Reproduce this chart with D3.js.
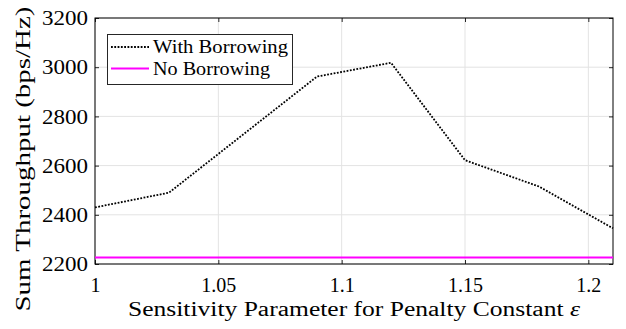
<!DOCTYPE html>
<html>
<head>
<meta charset="utf-8">
<script src="https://cdn.jsdelivr.net/npm/d3@7"></script>
</head>
<body style="margin:0;background:#fff">
<svg id="chart"></svg>
<script>
	// data
	var epsValues = [1, 1.03, 1.09, 1.12, 1.15, 1.18, 1.21];
	var withBorrowing = [2430, 2490, 2962, 3018, 2622, 2515, 2345];
	var noBorrowing = [2226, 2226, 2226, 2226, 2226, 2226, 2226];
	var xTicks = [1, 1.05, 1.1, 1.15, 1.2];
	var yTicks = [2200, 2400, 2600, 2800, 3000, 3200];
	var seriesNames = ["With Borrowing", "No Borrowing"];

	// font-family is left unset on purpose: the page default is the serif face
	var width = 626, height = 329;
	var margin = {left: 95, top: 18, right: 13, bottom: 65};
	var svg = d3.select("#chart").attr("width", width).attr("height", height);

	var x = d3.scaleLinear().domain([1, 1.21]).range([margin.left, width - margin.right]);
	var y = d3.scaleLinear().domain([2200, 3200]).range([height - margin.bottom, margin.top]);

	// grid
	var grid = svg.append("g").attr("class", "grid");
	grid.selectAll("line.gx").data(xTicks).enter().append("line")
		.attr("x1", function(d) { return x(d); }).attr("x2", function(d) { return x(d); })
		.attr("y1", y(2200)).attr("y2", y(3200))
		.style("stroke", "#e3e3e3").style("stroke-width", 1);
	grid.selectAll("line.gy").data(yTicks).enter().append("line")
		.attr("y1", function(d) { return y(d); }).attr("y2", function(d) { return y(d); })
		.attr("x1", x(1)).attr("x2", x(1.21))
		.style("stroke", "#e3e3e3").style("stroke-width", 1);

	// axes with inward ticks
	var xAxis = d3.axisBottom(x).tickValues(xTicks).tickSizeInner(-4).tickSizeOuter(0)
		.tickFormat(function(d) { return String(+d.toFixed(2)); });
	var yAxis = d3.axisLeft(y).tickValues(yTicks).tickSizeInner(-4).tickSizeOuter(0)
		.tickFormat(d3.format("d"));

	var gx = svg.append("g").attr("transform", "translate(0," + y(2200) + ")").call(xAxis);
	var gy = svg.append("g").attr("transform", "translate(" + x(1) + ",0)").call(yAxis);
	var gxTop = svg.append("g").attr("transform", "translate(0," + y(3200) + ")")
		.call(d3.axisTop(x).tickValues(xTicks).tickSizeInner(-4).tickSizeOuter(0).tickFormat(""));
	var gyRight = svg.append("g").attr("transform", "translate(" + x(1.21) + ",0)")
		.call(d3.axisRight(y).tickValues(yTicks).tickSizeInner(-4).tickSizeOuter(0).tickFormat(""));

	[gx, gy, gxTop, gyRight].forEach(function(g) {
		g.attr("font-family", null).attr("font-size", null);
		g.select(".domain").remove();
		g.selectAll(".tick line").style("stroke", "#262626");
	});
	gx.selectAll("text").style("font-size", "20px")
		.style("fill", "#000").attr("dy", "0").attr("y", 28);
	gy.selectAll("text").style("font-size", "20px")
		.style("fill", "#000").attr("x", -7).attr("dy", "0.33em")
		.attr("textLength", 46).attr("lengthAdjust", "spacingAndGlyphs");

	// frame
	svg.append("rect")
		.attr("x", x(1)).attr("y", y(3200))
		.attr("width", x(1.21) - x(1)).attr("height", y(2200) - y(3200))
		.style("fill", "none").style("stroke", "#000").style("stroke-width", 1);

	var line = d3.line()
		.x(function(d, i) { return x(epsValues[i]); })
		.y(function(d) { return y(d); });

	svg.append("path").datum(noBorrowing).attr("d", line)
		.style("fill", "none").style("stroke", "#ff00ff").style("stroke-width", 2);
	svg.append("path").datum(withBorrowing).attr("d", line)
		.style("fill", "none").style("stroke", "#000").style("stroke-width", 1.8)
		.style("stroke-dasharray", "1.8,1.5");

	// labels
	svg.append("text").attr("x", (x(1) + x(1.21)) / 2).attr("y", 316)
		.attr("text-anchor", "middle").style("font-size", "20px")
		.attr("textLength", 452).attr("lengthAdjust", "spacingAndGlyphs")
		.text("Sensitivity Parameter for Penalty Constant ")
		.append("tspan").style("font-style", "italic").text("ε");
	svg.append("text").attr("transform", "translate(30,159) rotate(-90)")
		.attr("text-anchor", "middle").style("font-size", "20px")
		.attr("textLength", 305).attr("lengthAdjust", "spacingAndGlyphs")
		.text("Sum Throughput (bps/Hz)");

	// legend
	var legend = svg.append("g");
	legend.append("rect").attr("x", 107.5).attr("y", 34.5).attr("width", 185).attr("height", 50)
		.style("fill", "#fff").style("stroke", "#262626").style("stroke-width", 1);
	var styles = [
		{stroke: "#000", width: 1.8, dash: "1.8,1.5"},
		{stroke: "#ff00ff", width: 2, dash: null}
	];
	var legendLen = [135, 117];
	seriesNames.forEach(function(name, i) {
		var cy = 47 + i * 21.5;
		legend.append("line").attr("x1", 111).attr("x2", 149).attr("y1", cy).attr("y2", cy)
			.style("stroke", styles[i].stroke).style("stroke-width", styles[i].width)
			.style("stroke-dasharray", styles[i].dash);
		legend.append("text").attr("x", 153).attr("y", cy).attr("dy", "0.33em")
			.style("font-size", "19px")
			.attr("textLength", legendLen[i]).attr("lengthAdjust", "spacingAndGlyphs")
			.text(name);
	});
</script>
</body>
</html>
